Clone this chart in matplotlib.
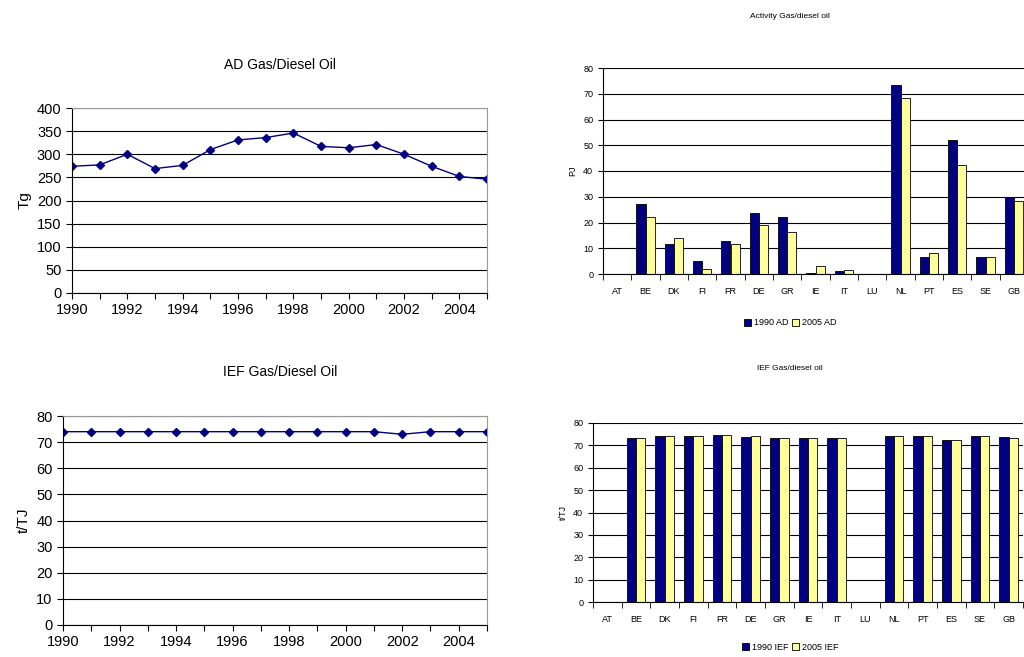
import numpy as np
import matplotlib.pyplot as plt

plt.rcParams['font.family'] = ['Liberation Sans', 'DejaVu Sans']

# time series
years = list(range(1990, 2006))
ad_tg = [274, 277, 300, 269, 276, 310, 331, 336, 346, 317, 314, 321, 300, 274, 252, 246]
ief_tj = [74, 74, 74, 74, 74, 74, 74, 74, 74, 74, 74, 74, 73, 74, 74, 74]

# country comparison
countries = ["AT", "BE", "DK", "FI", "FR", "DE", "GR", "IE", "IT", "LU", "NL", "PT", "ES", "SE", "GB"]
ad_1990 = [0, 27, 11.5, 5, 13, 23.5, 22, 0.3, 1.3, 0, 73.5, 6.5, 52, 6.5, 30]
ad_2005 = [0, 22, 14, 2, 11.5, 19, 16.5, 3.3, 1.5, 0, 68.5, 8, 42.5, 6.5, 28.5]
ief_1990 = [0, 73.3, 74, 74, 74.7, 73.6, 73.3, 73.3, 73.3, 0, 74.3, 74, 72.5, 74.3, 73.6]
ief_2005 = [0, 73.3, 74, 74, 74.7, 74, 73.3, 73.3, 73.3, 0, 74.3, 74, 72.5, 74.3, 73.3]

navy = '#000080'
pale = '#ffff99'

W, H = 1024, 657
fig = plt.figure(figsize=(W / 100, H / 100), dpi=100)


def box(l, t, r, b):
    return [l / W, 1 - b / H, (r - l) / W, (b - t) / H]


def line_panel(rect, vals, ymax, step, ylabel, title, title_y):
    ax = fig.add_axes(box(*rect))
    ax.plot(years, vals, color=navy, marker='D', markersize=4, linewidth=1)
    ax.set_xlim(1990, 2005)
    ax.set_ylim(0, ymax)
    ax.set_yticks(np.arange(0, ymax + 1, step))
    ax.set_xticks(years)
    ax.set_xticklabels([str(y) if y % 2 == 0 and y < 2005 else '' for y in years])
    ax.grid(axis='y', color='black', linewidth=0.8)
    ax.set_axisbelow(True)
    for s in ['top', 'right']:
        ax.spines[s].set_color('#999999')
    ax.tick_params(labelsize=10.5, length=4, direction='out')
    ax.set_ylabel(ylabel, fontsize=11)
    fig.text(280 / W, 1 - title_y / H, title, ha='center', va='center', fontsize=10)
    return ax


line_panel((72, 108, 487, 293), ad_tg, 400, 50, 'Tg', 'AD Gas/Diesel Oil', 65)
line_panel((63, 416, 487, 625), ief_tj, 80, 10, 't/TJ', 'IEF Gas/Diesel Oil', 372)


def bar_panel(rect, a, b, ylabel, title, title_y, labels, leg_y):
    ax = fig.add_axes(box(*rect))
    x = np.arange(len(countries))
    w = 0.32
    ax.bar(x - w / 2, a, w, color=navy, edgecolor='black', linewidth=0.6, label=labels[0])
    ax.bar(x + w / 2, b, w, color=pale, edgecolor='black', linewidth=0.6, label=labels[1])
    ax.set_xlim(-0.5, len(countries) - 0.5)
    ax.set_ylim(0, 80)
    ax.set_yticks(np.arange(0, 81, 10))
    ax.set_xticks(x)
    ax.set_xticklabels(countries)
    ax.set_xticks(np.arange(-0.5, len(countries), 1), minor=True)
    ax.tick_params(axis='x', which='major', length=0, pad=9)
    ax.tick_params(axis='x', which='minor', length=4)
    ax.tick_params(labelsize=6.5)
    ax.grid(axis='y', color='black', linewidth=0.8)
    ax.set_axisbelow(True)
    for s in ['top', 'right']:
        ax.spines[s].set_visible(False)
    ax.set_ylabel(ylabel, fontsize=6.5)
    fig.text(790 / W, 1 - title_y / H, title, ha='center', va='center', fontsize=6)
    ax.legend(loc='center', bbox_to_anchor=(790 / W, 1 - leg_y / H), bbox_transform=fig.transFigure,
              ncol=2, frameon=False, fontsize=6.5, handlelength=0.8, handleheight=0.8,
              handletextpad=0.3, columnspacing=0.4)
    return ax


bar_panel((603, 68, 1028, 274), ad_1990, ad_2005, 'PJ', 'Activity Gas/diesel oil', 16,
          ['1990 AD', '2005 AD'], 323)
bar_panel((593, 423, 1023, 602), ief_1990, ief_2005, 't/TJ', 'IEF Gas/diesel oil', 368,
          ['1990 IEF', '2005 IEF'], 647)

fig.savefig('out.png', dpi=100)
